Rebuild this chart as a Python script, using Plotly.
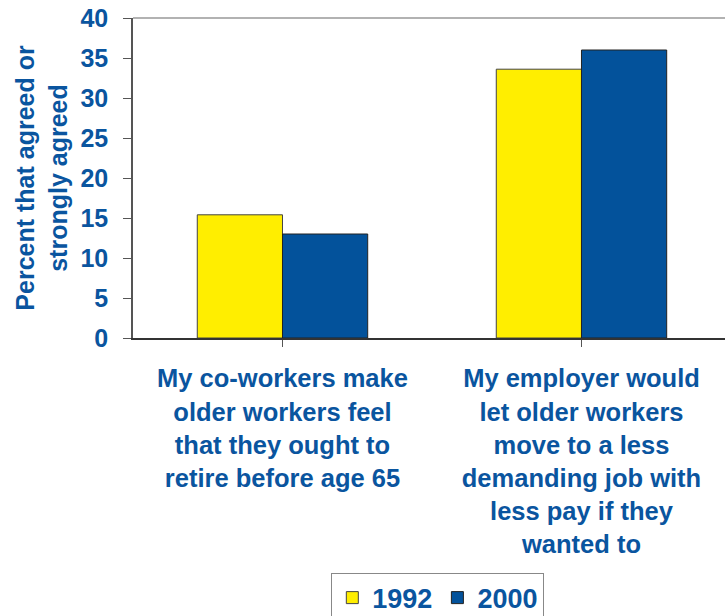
import plotly.graph_objects as go

categories = [
    "My co-workers make<br>older workers feel<br>that they ought to<br>retire before age 65",
    "My employer would<br>let older workers<br>move to a less<br>demanding job with<br>less pay if they<br>wanted to",
]
values_1992 = [15.4, 33.6]
values_2000 = [13.0, 36.0]
y_ticks = [0, 5, 10, 15, 20, 25, 30, 35, 40]

BLUE_TXT = "#0a559f"
FONT = "Liberation Sans, Arial, sans-serif"

fig = go.Figure()
fig.add_trace(go.Bar(x=[0, 1], y=values_1992, name="1992",
                     marker=dict(color="#ffee00", line=dict(color="#444444", width=1))))
fig.add_trace(go.Bar(x=[0, 1], y=values_2000, name="2000",
                     marker=dict(color="#03529b", line=dict(color="#222222", width=1))))

fig.update_layout(
    width=725, height=616,
    margin=dict(l=133, r=0, t=18, b=278, autoexpand=False),
    plot_bgcolor="white", paper_bgcolor="white",
    barmode="group", bargap=0.43, bargroupgap=0,
    font=dict(family=FONT, color=BLUE_TXT),
    showlegend=True,
    legend=dict(orientation="h", x=0.335, xanchor="left", y=-0.733, yanchor="top",
                bordercolor="#888888", borderwidth=1, bgcolor="white",
                font=dict(size=27, family=FONT, color=BLUE_TXT, weight="bold"),
                itemwidth=30, tracegroupgap=0),
)
fig.update_xaxes(
    tickmode="array", tickvals=[0, 1], ticktext=categories,
    range=[-0.5, 1.48], tickson="boundaries", ticks="outside", ticklen=7,
    tickcolor="#555555", showline=True, linecolor="#333333", linewidth=1.5,
    showgrid=False, zeroline=False, automargin=False, ticklabelstandoff=10,
    tickfont=dict(size=25.5, family=FONT, color=BLUE_TXT, weight="bold"),
)
fig.update_yaxes(
    range=[0, 40], tickvals=y_ticks, ticks="outside", ticklen=8,
    tickcolor="#555555", showline=True, linecolor="#555555", linewidth=1.5,
    showgrid=False, zeroline=False, automargin=False, ticklabelstandoff=10,
    tickfont=dict(size=25, family=FONT, color=BLUE_TXT, weight="bold"),
    title=dict(text="Percent that agreed or<br>strongly agreed",
               font=dict(size=25, family=FONT, color=BLUE_TXT, weight="bold"),
               standoff=6),
)
fig.add_shape(type="line", xref="paper", yref="paper", x0=0, x1=1, y0=1, y1=1,
              line=dict(color="#999999", width=1.5))

fig.write_html("out.html")
